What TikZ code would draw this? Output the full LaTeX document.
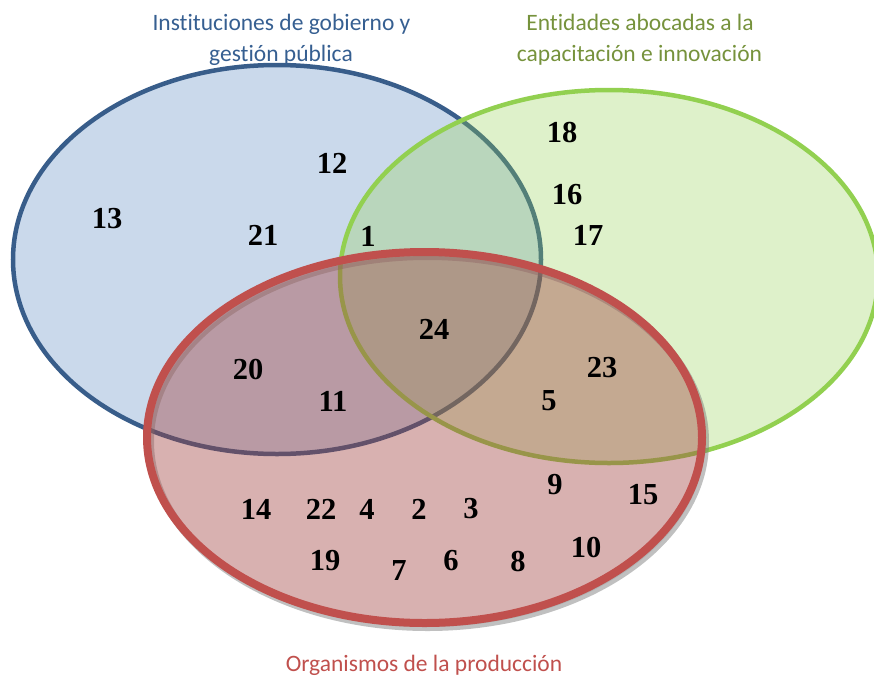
\documentclass[tikz,border=0pt]{standalone}
\usepackage{fontspec}
\setmainfont[Ligatures=NoCommon]{Carlito}
\newfontfamily\numfont{Liberation Serif}
\definecolor{bluefill}{RGB}{79,129,189}
\definecolor{bluedraw}{RGB}{56,93,138}
\definecolor{greenfill}{RGB}{146,208,80}
\definecolor{greendraw}{RGB}{146,208,80}
\definecolor{redfill}{RGB}{192,80,77}
\definecolor{reddraw}{RGB}{192,80,77}
\definecolor{bluetext}{RGB}{54,95,145}
\definecolor{greentext}{RGB}{118,146,60}
\definecolor{redtext}{RGB}{192,80,77}
\tikzset{
  num/.style={inner sep=0pt, anchor=center, font=\numfont\fontsize{30.5}{30}\selectfont\bfseries},
  setlabel/.style={inner sep=0pt, anchor=base, font=\fontsize{23.5}{33}\selectfont}
}
\begin{document}
\begin{tikzpicture}[x=1pt,y=-1pt]
\useasboundingbox (0,0) rectangle (874,677);
% blue set
\draw[line width=4.5pt, draw=bluedraw, fill=bluefill, fill opacity=0.3] (277,259.5) ellipse [x radius=264, y radius=194.5];
% green set
\draw[line width=4.5pt, draw=greendraw, fill=greenfill, fill opacity=0.3] (609,276.5) ellipse [x radius=269, y radius=186.5];
% red shadow
\fill[black, opacity=0.10] (427.5,441.5) ellipse [x radius=277.5, y radius=185.5];
\draw[line width=8pt, draw=black!55, opacity=0.45] (427.5,441.5) ellipse [x radius=277.5, y radius=185.5];
% red set
\draw[line width=8pt, draw=reddraw, fill=redfill, fill opacity=0.35] (424.5,437.5) ellipse [x radius=277.5, y radius=185.5];
% set labels
\node[setlabel, text=bluetext] (b1) at (281.5,30.5) {Instituciones de gobierno y};
\node[setlabel, text=bluetext] (b2) at (281,61.5) {gestión pública};
\node[setlabel, text=greentext] (g1) at (640,30.5) {Entidades abocadas a la};
\node[setlabel, text=greentext] (g2) at (639.5,62) {capacitación e innovación};
\node[setlabel, text=redtext] (r1) at (424,671) {Organismos de la producción};
% numbers
\node[num] (n13) at (107,219) {13};
\node[num] (n12) at (332,163) {12};
\node[num] (n21) at (263,235) {21};
\node[num] (n1) at (368,236) {1};
\node[num] (n18) at (562,133) {18};
\node[num] (n16) at (567,195) {16};
\node[num] (n17) at (588,235) {17};
\node[num] (n24) at (434,329) {24};
\node[num] (n20) at (248,370) {20};
\node[num] (n11) at (333,401) {11};
\node[num] (n23) at (602,368) {23};
\node[num] (n5) at (549,401) {5};
\node[num] (n9) at (555,485) {9};
\node[num] (n15) at (643,495) {15};
\node[num] (n14) at (256,509) {14};
\node[num] (n22) at (321,509) {22};
\node[num] (n4) at (367,509) {4};
\node[num] (n2) at (419,509) {2};
\node[num] (n3) at (471,509) {3};
\node[num] (n10) at (586,547) {10};
\node[num] (n19) at (325,561) {19};
\node[num] (n7) at (399,571) {7};
\node[num] (n6) at (451,561) {6};
\node[num] (n8) at (518,561) {8};
\end{tikzpicture}
\end{document}
